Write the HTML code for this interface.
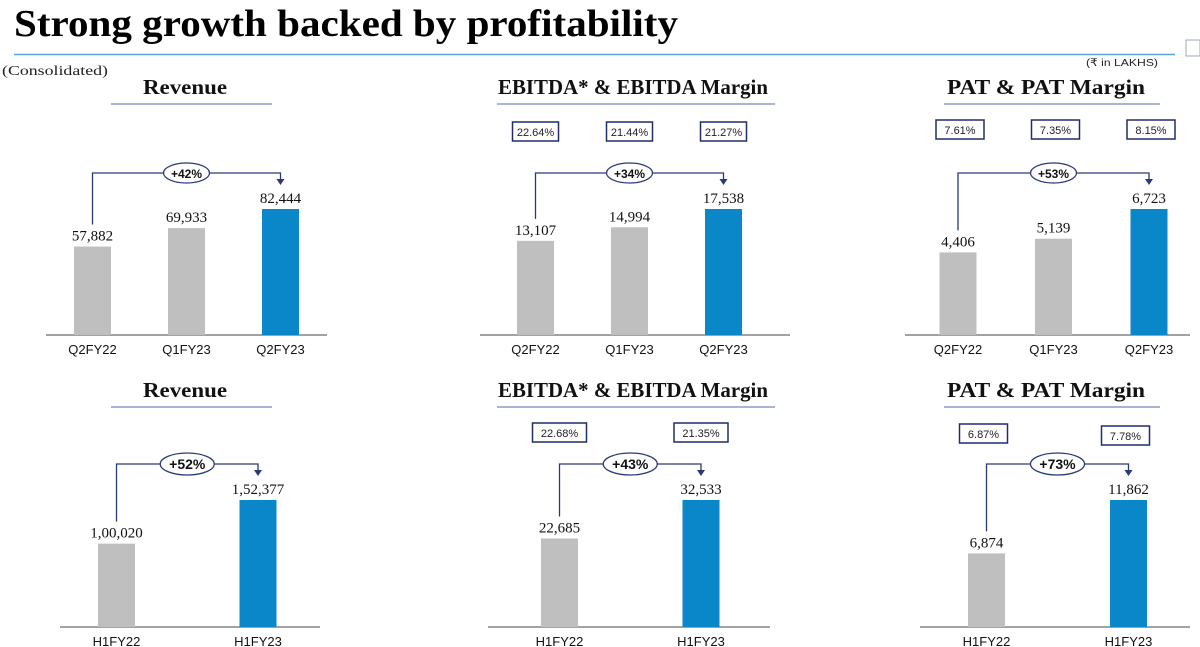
<!DOCTYPE html>
<html><head><meta charset="utf-8">
<style>
body{margin:0;width:1200px;height:647px;background:#fff;overflow:hidden;font-family:"Liberation Sans",sans-serif;}
svg{position:absolute;left:0;top:0}
</style></head>
<body>
<svg id="chart" width="1200" height="647">
<text x="14" y="36" font-family="Liberation Serif, serif" font-weight="bold" font-size="38" textLength="664" lengthAdjust="spacingAndGlyphs" fill="#000">Strong growth backed by profitability</text>
<line x1="14" y1="54.5" x2="1175" y2="54.5" stroke="#5aa5d8" stroke-width="1.5"/>
<rect x="1186" y="40" width="14" height="16" fill="none" stroke="#9ab" stroke-width="1"/>
<text x="2" y="75" font-family="Liberation Serif, serif" font-size="14" textLength="106" lengthAdjust="spacingAndGlyphs" fill="#222">(Consolidated)</text>
<text x="1086" y="66" font-family="Liberation Sans, sans-serif" font-size="10.5" textLength="72" lengthAdjust="spacingAndGlyphs" fill="#222">(₹ in LAKHS)</text>
</svg>
<script>
// Panel data
const p1Cats=["Q2FY22","Q1FY23","Q2FY23"], p1Vals=[57882,69933,82444], p1Labels=["57,882","69,933","82,444"], p1Growth="+42%";
const p2Cats=["Q2FY22","Q1FY23","Q2FY23"], p2Vals=[13107,14994,17538], p2Labels=["13,107","14,994","17,538"], p2Margins=["22.64%","21.44%","21.27%"], p2Growth="+34%";
const p3Cats=["Q2FY22","Q1FY23","Q2FY23"], p3Vals=[4406,5139,6723], p3Labels=["4,406","5,139","6,723"], p3Margins=["7.61%","7.35%","8.15%"], p3Growth="+53%";
const p4Cats=["H1FY22","H1FY23"], p4Vals=[100020,152377], p4Labels=["1,00,020","1,52,377"], p4Growth="+52%";
const p5Cats=["H1FY22","H1FY23"], p5Vals=[22685,32533], p5Labels=["22,685","32,533"], p5Margins=["22.68%","21.35%"], p5Growth="+43%";
const p6Cats=["H1FY22","H1FY23"], p6Vals=[6874,11862], p6Labels=["6,874","11,862"], p6Margins=["6.87%","7.78%"], p6Growth="+73%";

const svg=document.getElementById('chart');
const NS="http://www.w3.org/2000/svg";
function mk(tag,attrs,parent){const e=document.createElementNS(NS,tag);for(const k in attrs)e.setAttribute(k,attrs[k]);(parent||svg).appendChild(e);return e;}

function panel(cfg,cats,vals,labels,margins,growth){
  const g=mk('g',{});
  
  
  const t=mk('text',{x:cfg.tx,y:cfg.ty,'text-anchor':'middle','font-family':'Liberation Serif, serif','font-weight':'bold','font-size':21,fill:'#111',textLength:cfg.tl,lengthAdjust:'spacingAndGlyphs'},g);
  t.textContent=cfg.title;
  
  
  const u=mk('line',{x1:cfg.ux1,x2:cfg.ux2,y1:cfg.uy,y2:cfg.uy,stroke:'#8a9cc8','stroke-width':1.5},g);
  
  
  const ax=mk('line',{x1:cfg.ax1,x2:cfg.ax2,y1:cfg.base,y2:cfg.base,stroke:'#444','stroke-width':1},g);
  
  
  const maxV=Math.max(...vals);
  const yS=v=>cfg.base-(v/maxV)*(cfg.base-cfg.topMax);
  const centers=[];
  vals.forEach((v,i)=>{
    const cx=cfg.x0+i*cfg.step;centers.push(cx);
    const last=i===vals.length-1;
    const r=mk('rect',{x:cx-18.5,y:yS(v),width:37,height:cfg.base-yS(v),fill:last?'#0a87c9':'#bfbfbf'},g);
    
    
    const l=mk('text',{x:cx,y:yS(v)-6,'text-anchor':'middle','font-family':'Liberation Serif, serif','font-size':15,fill:'#111'},g);
    l.textContent=labels[i];
    
    
    const c=mk('text',{x:cx,y:cfg.base+19,'text-anchor':'middle','font-size':13,fill:'#111'},g);
    c.textContent=cats[i];
    
    
    if(margins){
      const bw=cfg.bw, by=cfg.boxY[i];
      const b=mk('rect',{x:cx-bw/2+cfg.boxDx,y:by,width:bw,height:19,fill:'#fff',stroke:'#1f2d6b','stroke-width':1.5},g);
      
      
      const bt=mk('text',{x:cx+cfg.boxDx,y:by+14,'text-anchor':'middle','font-size':11,fill:'#222'},g);
      bt.textContent=margins[i];
      
      
    }
  });
  const x1=centers[0], x2=centers[centers.length-1];
  const y1=yS(vals[0])-22, y2=yS(vals[vals.length-1])-24, by=cfg.by;
  const p=mk('path',{d:`M${x1},${y1} V${by} H${x2} V${y2-5}`,fill:'none',stroke:'#2a3a78','stroke-width':1.3},g);
  
  
  const a=mk('path',{d:`M${x2-4},${y2-6} L${x2+4},${y2-6} L${x2},${y2} Z`,fill:'#2a3a78'},g);
  
  
  const mx=(x1+x2)/2;
  const e=mk('ellipse',{cx:mx,cy:by,rx:cfg.erx,ry:cfg.ery,fill:'#fff',stroke:'#2a3a78','stroke-width':1.3},g);
  
  
  const et=mk('text',{x:mx,y:by+5,'text-anchor':'middle','font-weight':'bold','font-size':cfg.efs,fill:'#111'},g);
  et.textContent=growth;
  
  
}
const topC={ty:94,uy:104,base:335,topMax:209,by:173,erx:23,ery:10,efs:12,bw:46,boxDx:0};
const botC={ty:397,uy:407,base:627,topMax:500,by:464,erx:27,ery:11,efs:14,bw:54,boxDx:0};
panel(Object.assign({},topC,{name:'revenue-quarterly-panel',title:'Revenue',tl:84,tx:185,ux1:111,ux2:272,ax1:46,ax2:327,x0:92.5,step:94}),p1Cats,p1Vals,p1Labels,null,p1Growth);
panel(Object.assign({},topC,{name:'ebitda-quarterly-panel',title:'EBITDA* & EBITDA Margin',tl:270,tx:633,ux1:497,ux2:775,ax1:480,ax2:790,x0:535.5,step:94,boxY:[122,122,122],bw:46}),p2Cats,p2Vals,p2Labels,p2Margins,p2Growth);
panel(Object.assign({},topC,{name:'pat-quarterly-panel',title:'PAT & PAT Margin',tl:198,tx:1046,ux1:944,ux2:1160,ax1:905,ax2:1190,x0:958,step:95.5,boxY:[120,120,120],bw:48,boxDx:2}),p3Cats,p3Vals,p3Labels,p3Margins,p3Growth);
panel(Object.assign({},botC,{name:'revenue-half-year-panel',title:'Revenue',tl:84,tx:185,ux1:111,ux2:272,ax1:60,ax2:320,x0:116.5,step:141.5}),p4Cats,p4Vals,p4Labels,null,p4Growth);
panel(Object.assign({},botC,{name:'ebitda-half-year-panel',title:'EBITDA* & EBITDA Margin',tl:270,tx:633,ux1:497,ux2:775,ax1:488,ax2:770,x0:559.5,step:141.5,boxY:[423,423]}),p5Cats,p5Vals,p5Labels,p5Margins,p5Growth);
panel(Object.assign({},botC,{name:'pat-half-year-panel',title:'PAT & PAT Margin',tl:198,tx:1046,ux1:944,ux2:1160,ax1:920,ax2:1190,x0:986.5,step:142,boxY:[424,426],bw:48,boxDx:-3}),p6Cats,p6Vals,p6Labels,p6Margins,p6Growth);
</script>
</body></html>
